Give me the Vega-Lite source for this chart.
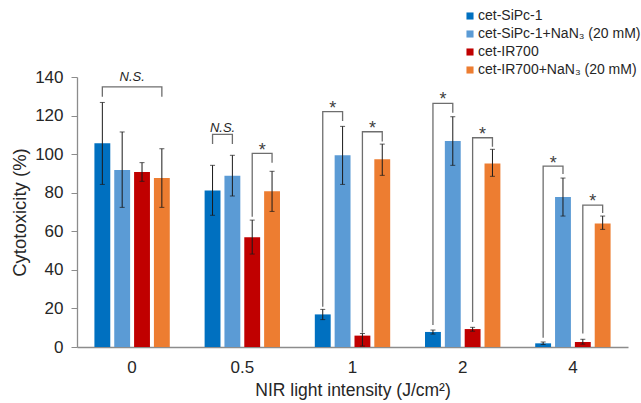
{
  "$schema": "https://vega.github.io/schema/vega-lite/v6.json",
  "width": 551,
  "height": 270,
  "autosize": {"type": "none"},
  "padding": {"left": 77, "top": 77, "right": 13, "bottom": 56},
  "background": "white",
  "config": {
    "view": {"stroke": null},
    "font": "Liberation Sans",
    "axis": {"labelFont": "Liberation Sans", "titleFont": "Liberation Sans", "labelColor": "#262626", "titleColor": "#262626", "titleFontWeight": "normal", "labelFontSize": 17, "titleFontSize": 17.5, "grid": false, "domainColor": "#8c8c8c", "tickColor": "#8c8c8c", "labelOverlap": false},
    "axisY": {"tickSize": 6, "labelPadding": 8, "titlePadding": 5, "domainWidth": 1.3, "titleFontSize": 18.5, "labelFontSize": 17, "labelOverlap": false},
    "legend": {"labelFont": "Liberation Sans", "labelFontSize": 14, "labelColor": "#262626"}
  },
  "datasets": {
    "bars": [
      {"g": "0", "s": "cet-SiPc-1", "v": 105.6, "lo": 84.3, "hi": 126.8},
      {"g": "0", "s": "cet-SiPc-1+NaN₃ (20 mM)", "v": 91.8, "lo": 72.4, "hi": 111.5},
      {"g": "0", "s": "cet-IR700", "v": 90.7, "lo": 85.9, "hi": 95.6},
      {"g": "0", "s": "cet-IR700+NaN₃ (20 mM)", "v": 87.6, "lo": 72.4, "hi": 102.8},
      {"g": "0.5", "s": "cet-SiPc-1", "v": 81.2, "lo": 68.3, "hi": 94.2},
      {"g": "0.5", "s": "cet-SiPc-1+NaN₃ (20 mM)", "v": 88.8, "lo": 78.3, "hi": 99.4},
      {"g": "0.5", "s": "cet-IR700", "v": 56.9, "lo": 48.2, "hi": 65.8},
      {"g": "0.5", "s": "cet-IR700+NaN₃ (20 mM)", "v": 80.7, "lo": 70.3, "hi": 91.1},
      {"g": "1", "s": "cet-SiPc-1", "v": 16.9, "lo": 14.2, "hi": 19.5},
      {"g": "1", "s": "cet-SiPc-1+NaN₃ (20 mM)", "v": 99.4, "lo": 84.3, "hi": 114.4},
      {"g": "1", "s": "cet-IR700", "v": 5.9, "lo": 0.5, "hi": 7.0},
      {"g": "1", "s": "cet-IR700+NaN₃ (20 mM)", "v": 97.3, "lo": 89.0, "hi": 105.2},
      {"g": "2", "s": "cet-SiPc-1", "v": 7.8, "lo": 6.7, "hi": 8.8},
      {"g": "2", "s": "cet-SiPc-1+NaN₃ (20 mM)", "v": 106.8, "lo": 94.2, "hi": 119.4},
      {"g": "2", "s": "cet-IR700", "v": 9.3, "lo": 8.2, "hi": 10.2},
      {"g": "2", "s": "cet-IR700+NaN₃ (20 mM)", "v": 95.2, "lo": 88.5, "hi": 102.5},
      {"g": "4", "s": "cet-SiPc-1", "v": 1.9, "lo": 1.3, "hi": 2.6},
      {"g": "4", "s": "cet-SiPc-1+NaN₃ (20 mM)", "v": 77.8, "lo": 67.9, "hi": 87.6},
      {"g": "4", "s": "cet-IR700", "v": 2.6, "lo": 1.5, "hi": 4.0},
      {"g": "4", "s": "cet-IR700+NaN₃ (20 mM)", "v": 64.1, "lo": 61.0, "hi": 67.9}
    ],
    "brackets": [
      {"b": "a", "o": 1, "g": "0", "s": "cet-SiPc-1", "y": 129.8},
      {"b": "a", "o": 2, "g": "0", "s": "cet-SiPc-1", "y": 134.9},
      {"b": "a", "o": 3, "g": "0", "s": "cet-IR700+NaN₃ (20 mM)", "y": 134.9},
      {"b": "a", "o": 4, "g": "0", "s": "cet-IR700+NaN₃ (20 mM)", "y": 129.8},
      {"b": "b", "o": 1, "g": "0.5", "s": "cet-SiPc-1", "y": 105.2},
      {"b": "b", "o": 2, "g": "0.5", "s": "cet-SiPc-1", "y": 110.3},
      {"b": "b", "o": 3, "g": "0.5", "s": "cet-SiPc-1+NaN₃ (20 mM)", "y": 110.3},
      {"b": "b", "o": 4, "g": "0.5", "s": "cet-SiPc-1+NaN₃ (20 mM)", "y": 105.2},
      {"b": "c", "o": 1, "g": "0.5", "s": "cet-IR700", "y": 67.5},
      {"b": "c", "o": 2, "g": "0.5", "s": "cet-IR700", "y": 100.4},
      {"b": "c", "o": 3, "g": "0.5", "s": "cet-IR700+NaN₃ (20 mM)", "y": 100.4},
      {"b": "c", "o": 4, "g": "0.5", "s": "cet-IR700+NaN₃ (20 mM)", "y": 95.6},
      {"b": "d", "o": 1, "g": "1", "s": "cet-SiPc-1", "y": 20.9},
      {"b": "d", "o": 2, "g": "1", "s": "cet-SiPc-1", "y": 122.0},
      {"b": "d", "o": 3, "g": "1", "s": "cet-SiPc-1+NaN₃ (20 mM)", "y": 122.0},
      {"b": "d", "o": 4, "g": "1", "s": "cet-SiPc-1+NaN₃ (20 mM)", "y": 117.2},
      {"b": "e", "o": 1, "g": "1", "s": "cet-IR700", "y": 7.4},
      {"b": "e", "o": 2, "g": "1", "s": "cet-IR700", "y": 111.6},
      {"b": "e", "o": 3, "g": "1", "s": "cet-IR700+NaN₃ (20 mM)", "y": 111.6},
      {"b": "e", "o": 4, "g": "1", "s": "cet-IR700+NaN₃ (20 mM)", "y": 106.5},
      {"b": "f", "o": 1, "g": "2", "s": "cet-SiPc-1", "y": 11.4},
      {"b": "f", "o": 2, "g": "2", "s": "cet-SiPc-1", "y": 126.3},
      {"b": "f", "o": 3, "g": "2", "s": "cet-SiPc-1+NaN₃ (20 mM)", "y": 126.3},
      {"b": "f", "o": 4, "g": "2", "s": "cet-SiPc-1+NaN₃ (20 mM)", "y": 121.5},
      {"b": "h", "o": 1, "g": "2", "s": "cet-IR700", "y": 13.0},
      {"b": "h", "o": 2, "g": "2", "s": "cet-IR700", "y": 108.5},
      {"b": "h", "o": 3, "g": "2", "s": "cet-IR700+NaN₃ (20 mM)", "y": 108.5},
      {"b": "h", "o": 4, "g": "2", "s": "cet-IR700+NaN₃ (20 mM)", "y": 103.8},
      {"b": "i", "o": 1, "g": "4", "s": "cet-SiPc-1", "y": 4.8},
      {"b": "i", "o": 2, "g": "4", "s": "cet-SiPc-1", "y": 93.8},
      {"b": "i", "o": 3, "g": "4", "s": "cet-SiPc-1+NaN₃ (20 mM)", "y": 93.8},
      {"b": "i", "o": 4, "g": "4", "s": "cet-SiPc-1+NaN₃ (20 mM)", "y": 89.7},
      {"b": "j", "o": 1, "g": "4", "s": "cet-IR700", "y": 7.0},
      {"b": "j", "o": 2, "g": "4", "s": "cet-IR700", "y": 73.6},
      {"b": "j", "o": 3, "g": "4", "s": "cet-IR700+NaN₃ (20 mM)", "y": 73.6},
      {"b": "j", "o": 4, "g": "4", "s": "cet-IR700+NaN₃ (20 mM)", "y": 69.5}
    ],
    "ns": [
      {"g": "0", "s": "cet-SiPc-1+NaN₃ (20 mM)", "y": 140, "t": "N.S."},
      {"g": "0.5", "s": "cet-SiPc-1", "y": 113.6, "t": "N.S."}
    ],
    "stars": [
      {"g": "0.5", "s": "cet-IR700", "y": 104.2, "t": "*"},
      {"g": "1", "s": "cet-SiPc-1", "y": 125.8, "t": "*"},
      {"g": "1", "s": "cet-IR700", "y": 115.4, "t": "*"},
      {"g": "2", "s": "cet-SiPc-1", "y": 130.6, "t": "*"},
      {"g": "2", "s": "cet-IR700", "y": 112.5, "t": "*"},
      {"g": "4", "s": "cet-SiPc-1", "y": 97.6, "t": "*"},
      {"g": "4", "s": "cet-IR700", "y": 77.6, "t": "*"}
    ]
  },
  "encoding": {
    "x": {
      "field": "g", "type": "nominal", "sort": ["0", "0.5", "1", "2", "4"],
      "scale": {"domain": ["0", "0.5", "1", "2", "4"], "paddingInner": 0.28, "paddingOuter": 0.14},
      "axis": {"title": "NIR light intensity (J/cm²)", "labelAngle": 0, "ticks": false, "labelPadding": 12, "titlePadding": 6, "domainWidth": 1.3, "labelFontSize": 17, "titleFontSize": 17.5}
    },
    "xOffset": {
      "field": "s", "type": "nominal",
      "scale": {"domain": ["cet-SiPc-1", "cet-SiPc-1+NaN₃ (20 mM)", "cet-IR700", "cet-IR700+NaN₃ (20 mM)"], "paddingInner": 0.2, "paddingOuter": 0.1}
    }
  },
  "layer": [
    {
      "data": {"name": "bars"},
      "mark": {"type": "bar"},
      "encoding": {
        "y": {"field": "v", "type": "quantitative", "scale": {"domain": [0, 140]},
          "axis": {"title": "Cytotoxicity (%)", "values": [0, 20, 40, 60, 80, 100, 120, 140]}},
        "color": {"field": "s", "type": "nominal",
          "scale": {"domain": ["cet-SiPc-1", "cet-SiPc-1+NaN₃ (20 mM)", "cet-IR700", "cet-IR700+NaN₃ (20 mM)"], "range": ["#0070C0", "#5B9BD5", "#C00000", "#ED7D31"]},
          "legend": {"title": null, "orient": "none", "legendX": 386, "legendY": -68, "symbolType": "square", "symbolSize": 50, "symbolStrokeWidth": 0, "labelOffset": 1, "rowPadding": 4, "labelLimit": 300, "padding": 0, "labelFontSize": 14}}
      }
    },
    {
      "data": {"name": "bars"},
      "mark": {"type": "rule", "color": "#1a1a1a", "strokeWidth": 1},
      "encoding": {"y": {"field": "lo", "type": "quantitative", "axis": {"title": "Cytotoxicity (%)", "values": [0, 20, 40, 60, 80, 100, 120, 140]}}, "y2": {"field": "hi"}}
    },
    {
      "data": {"name": "bars"},
      "mark": {"type": "tick", "color": "#1a1a1a", "size": 5, "thickness": 1, "orient": "horizontal"},
      "encoding": {"y": {"field": "lo", "type": "quantitative", "axis": {"title": "Cytotoxicity (%)", "values": [0, 20, 40, 60, 80, 100, 120, 140]}}}
    },
    {
      "data": {"name": "bars"},
      "mark": {"type": "tick", "color": "#1a1a1a", "size": 5, "thickness": 1, "orient": "horizontal"},
      "encoding": {"y": {"field": "hi", "type": "quantitative", "axis": {"title": "Cytotoxicity (%)", "values": [0, 20, 40, 60, 80, 100, 120, 140]}}}
    },
    {
      "data": {"name": "brackets"},
      "mark": {"type": "line", "color": "#6e6e6e", "strokeWidth": 1.3},
      "encoding": {"y": {"field": "y", "type": "quantitative", "axis": {"title": "Cytotoxicity (%)", "values": [0, 20, 40, 60, 80, 100, 120, 140]}}, "detail": {"field": "b"}, "order": {"field": "o"}}
    },
    {
      "data": {"name": "ns"},
      "mark": {"type": "text", "fontStyle": "italic", "fontSize": 13, "dx": 10, "baseline": "middle", "color": "#262626"},
      "encoding": {"y": {"field": "y", "type": "quantitative", "axis": {"title": "Cytotoxicity (%)", "values": [0, 20, 40, 60, 80, 100, 120, 140]}}, "text": {"field": "t"}}
    },
    {
      "data": {"name": "stars"},
      "mark": {"type": "text", "fontSize": 18, "dx": 10, "dy": 5, "baseline": "middle", "color": "#404040"},
      "encoding": {"y": {"field": "y", "type": "quantitative", "axis": {"title": "Cytotoxicity (%)", "values": [0, 20, 40, 60, 80, 100, 120, 140]}}, "text": {"field": "t"}}
    }
  ]
}
